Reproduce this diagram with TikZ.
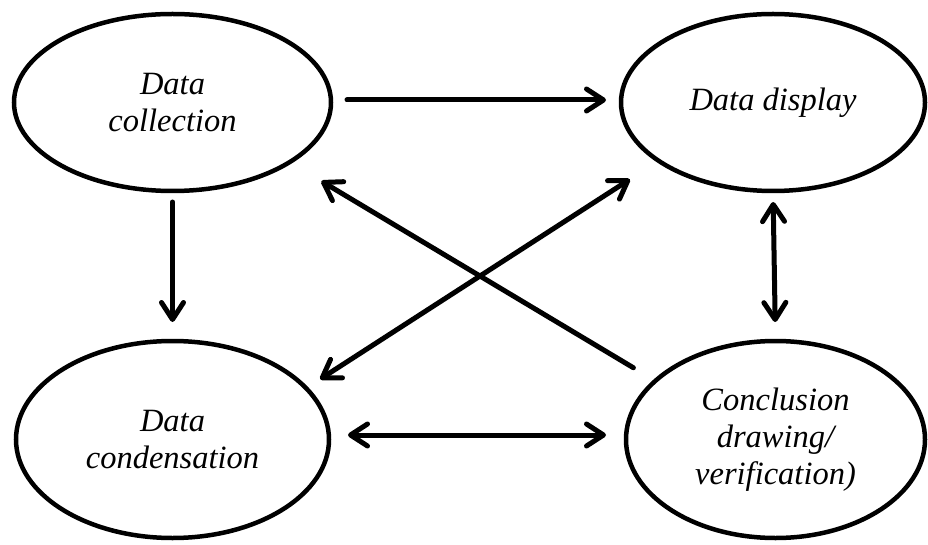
\documentclass[tikz,border=0pt]{standalone}
\usepackage{fontspec}
\setmainfont{Liberation Serif}
\usetikzlibrary{arrows.meta,shapes.geometric}
\tikzset{
  stage/.style={ellipse, draw=black, line width=4.5pt, inner sep=0pt, outer sep=0pt,
    align=center, font=\fontsize{32.5}{37}\selectfont\itshape},
  arr/.style={line width=5pt, line cap=round,
    -{Straight Barb[length=17pt,width=22pt,line cap=round,line join=round]}},
  darr/.style={line width=5pt, line cap=round,
    {Straight Barb[length=17pt,width=22pt,line cap=round,line join=round]}-{Straight Barb[length=17pt,width=22pt,line cap=round,line join=round]}}
}
\begin{document}
\begin{tikzpicture}[x=1pt,y=-1pt]
\useasboundingbox (0,0) rectangle (928,545);
\fill[white] (0,0) rectangle (928,545);
\node[stage, minimum width=317pt, minimum height=177pt] (col) at (172.5,102.5) {Data\\collection};
\node[stage, minimum width=304pt, minimum height=177pt] (disp) at (773,102.5) {Data display};
\node[stage, minimum width=313pt, minimum height=197pt] (cond) at (172.5,439.5) {Data\\condensation};
\node[stage, minimum width=299pt, minimum height=197pt] (concl) at (775.5,439.5) {Conclusion\\drawing/\\verification)};
% arrows
\draw[arr, shorten <=16pt, shorten >=15pt] (col.east |- 0,100) -- (disp.west |- 0,100);
\draw[arr, shorten <=11pt, shorten >=19pt] (col.south) -- (cond.north);
\draw[darr, shorten <=11pt, shorten >=19pt] (disp.south) -- (concl.north);
\draw[darr, shorten <=19pt, shorten >=20pt] (cond.east |- 0,435) -- (concl.west |- 0,435);
\draw[arr, shorten <=25.6pt, shorten >=37pt] (concl.154.8) -- (col.-27.6);
\draw[darr, shorten <=16.7pt, shorten >=34.2pt] (cond.21.1) -- (disp.207.6);
\end{tikzpicture}
\end{document}
